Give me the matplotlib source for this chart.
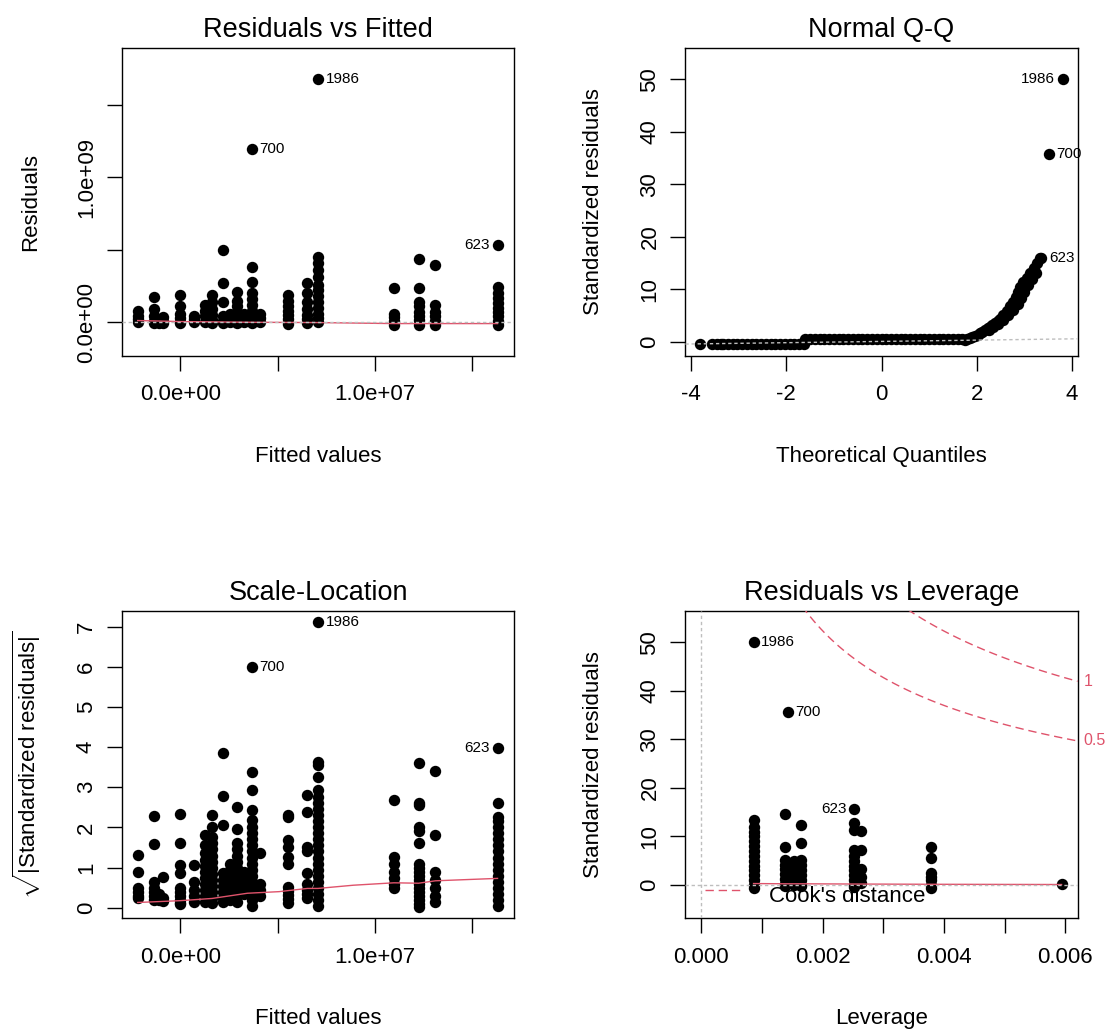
import numpy as np
import matplotlib
matplotlib.use("Agg")
import matplotlib.pyplot as plt
import matplotlib.transforms as mtransforms

plt.rcParams['font.family'] = ['Liberation Sans', 'DejaVu Sans']
plt.rcParams['mathtext.fontset'] = 'custom'
plt.rcParams['mathtext.rm'] = 'Liberation Sans'
plt.rcParams['mathtext.it'] = 'Liberation Sans:italic'
plt.rcParams['mathtext.bf'] = 'Liberation Sans:bold'

RED = '#DF536B'
GRAY = '#BEBEBE'

# ---------------------------------------------------------------------------
# data (lm diagnostic plots)
# ---------------------------------------------------------------------------

# fitted value groups, in units of 1e6
fitted_groups = [-2.18, -1.32, -1.09, -0.87, 0.0, 0.73, 1.27, 1.63, 2.18, 2.54, 2.90,
                 3.26, 3.68, 4.08, 5.53, 6.53, 7.07, 10.97, 12.24, 13.10, 16.29]

# residuals per fitted group, in units of 1e9
resid_groups = [
    [0.075, 0.045, 0.02, 0.005],
    [0.177, 0.09, 0.045, 0.01, -0.005],
    [0.01, -0.005],
    [0.035, 0.01, -0.005],
    [0.189, 0.113, 0.06, 0.03, 0.005, -0.005],
    [0.045, 0.025, 0.005],
    [0.12, 0.075, 0.04, 0.005],
    [0.19, 0.14, 0.095, 0.05, 0.015, -0.005],
    [0.5, 0.27, 0.143, 0.04, 0.01, -0.005],
    [0.06, 0.03, 0.0],
    [0.21, 0.15, 0.11, 0.07, 0.035, 0.005, -0.005],
    [0.06, 0.03, 0.0],
    [0.384, 0.28, 0.2, 0.16, 0.12, 0.08, 0.05, 0.02, -0.005],
    [0.06, 0.03, 0.005],
    [0.19, 0.15, 0.11, 0.08, 0.05, 0.02, -0.01],
    [0.27, 0.2, 0.14, 0.09, 0.05, 0.02, -0.005],
    [0.453, 0.41, 0.36, 0.31, 0.26, 0.22, 0.18, 0.14, 0.1, 0.06, 0.03, 0.0],
    [0.235, 0.06, 0.035, 0.01, -0.02],
    [0.44, 0.235, 0.14, 0.11, 0.07, 0.04, 0.015, -0.02],
    [0.396, 0.12, 0.07, 0.04, 0.01, -0.02],
    [0.246, 0.2, 0.17, 0.13, 0.1, 0.07, 0.04, 0.01, -0.02],
]

# sqrt(|standardized residuals|) per fitted group
sqrt_groups = [
    [1.31, 0.88, 0.5, 0.4, 0.3, 0.25],
    [2.28, 1.58, 0.65, 0.5, 0.4, 0.3, 0.2],
    [0.35, 0.25, 0.18],
    [0.77, 0.25, 0.17],
    [2.33, 1.62, 1.06, 0.86, 0.5, 0.4, 0.3, 0.2, 0.12, 0.08],
    [1.06, 0.65, 0.45, 0.28, 0.15],
    [1.81, 1.55, 1.35, 1.2, 1.05, 0.9, 0.75, 0.6, 0.45, 0.3, 0.15],
    [2.3, 2.02, 1.75, 1.6, 1.45, 1.3, 1.15, 1.0, 0.85, 0.7, 0.55, 0.4, 0.25, 0.12],
    [3.85, 2.79, 2.06, 0.86, 0.7, 0.55, 0.4, 0.25, 0.15],
    [1.1, 0.95, 0.8, 0.65, 0.5, 0.35, 0.2],
    [2.5, 1.95, 1.6, 1.45, 1.3, 1.15, 1.0, 0.85, 0.7, 0.55, 0.4, 0.28, 0.15],
    [0.9, 0.75, 0.6, 0.45, 0.35],
    [3.37, 2.93, 2.43, 2.18, 2.0, 1.85, 1.7, 1.55, 1.4, 1.25, 1.1, 0.95, 0.8, 0.65,
     0.5, 0.35, 0.2, 0.05],
    [1.35, 0.6, 0.45, 0.3],
    [2.31, 2.25, 1.69, 1.52, 1.27, 1.1, 0.52, 0.42, 0.32, 0.22, 0.12],
    [2.81, 2.38, 1.52, 1.4, 0.86, 0.6, 0.45, 0.35, 0.25],
    [3.64, 3.55, 3.26, 2.93, 2.75, 2.6, 2.45, 2.3, 2.15, 2.0, 1.85, 1.7, 1.55, 1.4,
     1.25, 1.1, 0.95, 0.8, 0.65, 0.5, 0.35, 0.2, 0.05],
    [2.68, 1.27, 1.1, 0.9, 0.75, 0.6, 0.48],
    [3.6, 2.6, 2.55, 2.02, 1.9, 1.6, 1.1, 1.0, 0.9, 0.8, 0.7, 0.6, 0.5, 0.4, 0.3,
     0.2, 0.1, 0.02],
    [3.41, 1.81, 0.9, 0.7, 0.5, 0.3, 0.15],
    [2.62, 2.27, 2.15, 2.0, 1.85, 1.7, 1.55, 1.4, 1.25, 1.1, 0.95, 0.8, 0.65, 0.5,
     0.35, 0.2, 0.05],
]

# labelled observations
id_labels = ['1986', '700', '623']
id_fitted = [7.07, 3.68, 16.29]
id_resid = [1.677, 1.196, 0.534]
id_sqrt = [7.11, 6.0, 3.97]
id_qq_theo = [3.81, 3.51, 3.36]
id_qq_std = [50.0, 35.8, 16.0]
id_leverage = [0.000862, 0.001427, 0.002522]
id_lev_std = [50.1, 35.7, 15.6]

# red smoothers
rvf_smooth_x = [-2.18, 0.0, 3.68, 7.07, 10.97, 12.24, 13.10, 16.29]
rvf_smooth_y = [0.012, 0.005, 0.0, -0.002, -0.009, -0.009, -0.009, -0.009]
sl_smooth_x = [-2.18, 0.0, 1.63, 3.45, 5.08, 6.53, 7.07, 8.89, 10.97, 12.24, 13.10, 16.29]
sl_smooth_y = [0.13, 0.175, 0.23, 0.36, 0.40, 0.48, 0.48, 0.56, 0.62, 0.61, 0.67, 0.73]
lev_smooth_x = [0.000862, 0.001386, 0.001649, 0.002522, 0.003792, 0.00594]
lev_smooth_y = [0.3, 0.25, 0.25, 0.2, 0.15, 0.1]

# Normal Q-Q: flat band (two levels) and the upper tail
qq_low_theo = [-3.81, -3.57, -3.46, -3.38, -3.33, -3.23, -3.13, -3.03, -2.93, -2.83,
               -2.73, -2.63, -2.53, -2.43, -2.33, -2.23, -2.13, -2.03, -1.93, -1.83,
               -1.73, -1.63]
qq_low_level = -0.44
qq_high_theo = [-1.6, -1.5, -1.4, -1.3, -1.2, -1.1, -1.0, -0.9, -0.8, -0.7, -0.6,
                -0.5, -0.4, -0.3, -0.2, -0.1, 0.0, 0.1, 0.2, 0.3, 0.4, 0.5, 0.6,
                0.7, 0.8, 0.9, 1.0, 1.1, 1.2, 1.3, 1.4, 1.5, 1.6, 1.7]
qq_high_level = 0.42
qq_tail_theo = [1.75, 1.80, 1.86, 1.91, 1.96, 2.02, 2.07, 2.12, 2.17, 2.23, 2.28, 2.33,
                2.38, 2.44, 2.49, 2.56, 2.63, 2.70, 2.77, 2.82, 2.87, 2.91, 2.98, 3.06,
                3.13, 3.20, 3.26, 3.33,
                2.25, 2.35, 2.45, 2.55, 2.66, 2.76, 2.86, 2.93, 3.0, 3.08, 3.16, 3.24]
qq_tail_std = [0.32, 0.48, 0.64, 0.86, 1.09, 1.35, 1.6, 1.9, 2.23, 2.55, 2.86, 3.18,
               3.5, 3.9, 4.33, 5.09, 5.91, 6.8, 7.62, 8.58, 9.53, 10.48, 11.43, 12.07,
               13.03, 13.98, 14.94, 15.89,
               2.2, 2.8, 3.4, 4.2, 5.0, 6.0, 7.2, 8.3, 9.5, 10.8, 12.0, 13.0]
qq_line_pts = [(-3.9, -0.44), (3.5, 0.46)]

# Residuals vs Leverage
lev_groups = [0.000862, 0.001386, 0.00153, 0.001649, 0.002522, 0.002639, 0.003792, 0.00594]
lev_std_groups = [
    [13.4, 12.0, 11.0, 10.0, 9.0, 8.0, 7.0, 6.0, 5.0, 4.0, 3.0, 2.0, 1.0, 0.0, -0.7],
    [14.6, 7.9, 5.2, 4.2, 3.2, 2.2, 1.2, 0.2, -0.3],
    [5.0, 4.0, 3.0, 2.0, 1.0, 0.0],
    [12.4, 8.7, 5.2, 4.2, 3.0, 2.0, 1.0, 0.0, -0.3],
    [12.7, 11.3, 7.2, 6.0, 5.0, 4.0, 3.0, 2.0, 1.0, 0.0, -0.5],
    [11.2, 7.2, 3.4, 1.7, 0.5],
    [7.9, 5.5, 2.4, 1.7, 1.0, 0.0, -0.7],
    [0.2],
]
cook_levels = [0.5, 1.0]
n_params = 11

# ticks
fit_ticks = [0, 5, 10, 15]
fit_ticklabels = ['0.0e+00', '', '1.0e+07', '']
res_ticks = [0.0, 0.5, 1.0, 1.5]
res_ticklabels = ['0.0e+00', '', '1.0e+09', '']
qq_xticks = [-4, -2, 0, 2, 4]
std_ticks = [0, 10, 20, 30, 40, 50]
sl_ticks = [0, 1, 2, 3, 4, 5, 6, 7]
lev_ticks = [0.0, 0.001, 0.002, 0.003, 0.004, 0.005, 0.006]
lev_ticklabels = ['0.000', '', '0.002', '', '0.004', '', '0.006']

# ---------------------------------------------------------------------------
W, H = 1108, 1032
AX_W, AX_H = 392.2, 307.3
fig = plt.figure(figsize=(W / 100, H / 100), dpi=100)


def px_axes(x0, y0):
    return fig.add_axes([x0 / W, 1 - (y0 + AX_H) / H, AX_W / W, AX_H / H])


def expand(gx, gy):
    xs, ys = [], []
    for x, ylist in zip(gx, gy):
        xs += [x] * len(ylist)
        ys += ylist
    return xs, ys


def style(ax, title, xlabel, ylabel):
    for s in ax.spines.values():
        s.set_linewidth(1.0)
    ax.tick_params(direction='out', length=10.5, width=1.0, labelsize=16)
    ax.tick_params(axis='x', pad=10)
    ax.tick_params(axis='y', pad=7.5, labelrotation=90)
    for t in ax.get_yticklabels():
        t.set_verticalalignment('center')
    ax.text(0.5, 1 + 11 / AX_H, title, transform=ax.transAxes, ha='center',
            va='baseline', fontsize=19.5)
    ax.text(0.5, -106 / AX_H, xlabel, transform=ax.transAxes, ha='center',
            va='baseline', fontsize=16)
    ax.text(-86 / AX_W, 0.5, ylabel, transform=ax.transAxes, rotation=90,
            rotation_mode='anchor', ha='center', va='baseline', fontsize=16)


def points(ax, xs, ys):
    ax.plot(xs, ys, 'o', ms=8.2, mew=0, color='black', zorder=2, clip_on=False)


def label(ax, x, y, txt, side):
    off = 5.5 if side == 'right' else -5.5
    ax.annotate(txt, (x, y), xytext=(off, 0), textcoords='offset points',
                ha='left' if side == 'right' else 'right', va='center',
                fontsize=11, color='black', zorder=6, annotation_clip=False)


dotted = dict(color=GRAY, lw=1.0, ls=(0, (2.4, 2.0)), zorder=4)
dashed_red = dict(color=RED, lw=1.0, ls=(0, (6, 3.5)), zorder=3)

# --- Residuals vs Fitted ----------------------------------------------------
ax1 = px_axes(121.9, 48.3)
xs, ys = expand(fitted_groups, resid_groups)
points(ax1, xs + id_fitted, ys + id_resid)
ax1.plot(rvf_smooth_x, rvf_smooth_y, color=RED, lw=1.0, zorder=3)
ax1.axhline(0, **dotted)
for lab, x, y, side in zip(id_labels, id_fitted, id_resid, ['right', 'right', 'left']):
    label(ax1, x, y, lab, side)
ax1.set_xlim(-2.993, 17.14)
ax1.set_ylim(-0.230, 1.891)
ax1.set_xticks(fit_ticks, fit_ticklabels)
ax1.set_yticks(res_ticks, res_ticklabels)
style(ax1, 'Residuals vs Fitted', 'Fitted values', 'Residuals')

# --- Normal Q-Q -------------------------------------------------------------
ax2 = px_axes(685.4, 48.3)
points(ax2, qq_low_theo, [qq_low_level] * len(qq_low_theo))
points(ax2, qq_high_theo, [qq_high_level] * len(qq_high_theo))
points(ax2, qq_tail_theo + id_qq_theo, qq_tail_std + id_qq_std)
ax2.axline(qq_line_pts[0], qq_line_pts[1], **dotted)
for lab, x, y, side in zip(id_labels, id_qq_theo, id_qq_std, ['left', 'right', 'right']):
    label(ax2, x, y, lab, side)
ax2.set_xlim(-4.12, 4.12)
ax2.set_ylim(-2.67, 55.9)
ax2.set_xticks(qq_xticks, [str(v) for v in qq_xticks])
ax2.set_yticks(std_ticks, [str(v) for v in std_ticks])
style(ax2, 'Normal Q-Q', 'Theoretical Quantiles', 'Standardized residuals')

# --- Scale-Location ---------------------------------------------------------
ax3 = px_axes(121.9, 611.0)
xs, ys = expand(fitted_groups, sqrt_groups)
points(ax3, xs + id_fitted, ys + id_sqrt)
ax3.plot(sl_smooth_x, sl_smooth_y, color=RED, lw=1.0, zorder=3)
for lab, x, y, side in zip(id_labels, id_fitted, id_sqrt, ['right', 'right', 'left']):
    label(ax3, x, y, lab, side)
ax3.set_xlim(-2.993, 17.14)
ax3.set_ylim(-0.264, 7.39)
ax3.set_xticks(fit_ticks, fit_ticklabels)
ax3.set_yticks(sl_ticks, [str(v) for v in sl_ticks])
style(ax3, 'Scale-Location', 'Fitted values',
      r'$\sqrt{|\mathrm{Standardized\ residuals}|}$')

# --- Residuals vs Leverage --------------------------------------------------
ax4 = px_axes(685.4, 611.0)
xs, ys = expand(lev_groups, lev_std_groups)
points(ax4, xs + id_leverage, ys + id_lev_std)
ax4.plot(lev_smooth_x, lev_smooth_y, color=RED, lw=1.0, zorder=3)
ax4.axhline(0, **dotted)
ax4.axvline(0, **dotted)
xlo, xhi = -0.000262, 0.006204
hh = np.linspace(0.0004, xhi, 101)
blend = mtransforms.blended_transform_factory(ax4.transAxes, ax4.transData)
for lev in cook_levels:
    cl = np.sqrt(lev * n_params * (1 - hh) / hh)
    ax4.plot(hh, cl, **dashed_red)
    ax4.plot(hh, -cl, **dashed_red)
    aty = np.sqrt(lev * n_params * (1 - xhi) / xhi)
    ax4.text(1 + 6 / AX_W, aty, f'{lev:g}', transform=blend, color=RED,
             fontsize=11.5, ha='left', va='center', clip_on=False)
for lab, x, y, side in zip(id_labels, id_leverage, id_lev_std, ['right', 'right', 'left']):
    label(ax4, x, y, lab, side)
# legend, drawn by hand like R's bty="n" legend
ax4.plot([0.05, 0.1476], [0.0921, 0.0921], transform=ax4.transAxes, **dashed_red)
ax4.text(0.213, 0.054, "Cook's distance", transform=ax4.transAxes, ha='left',
         va='baseline', fontsize=16, zorder=6)
ax4.set_xlim(xlo, xhi)
ax4.set_ylim(-6.86, 56.46)
ax4.set_xticks(lev_ticks, lev_ticklabels)
ax4.set_yticks(std_ticks, [str(v) for v in std_ticks])
style(ax4, 'Residuals vs Leverage', 'Leverage', 'Standardized residuals')

fig.savefig('out.png', dpi=100, facecolor='white')
